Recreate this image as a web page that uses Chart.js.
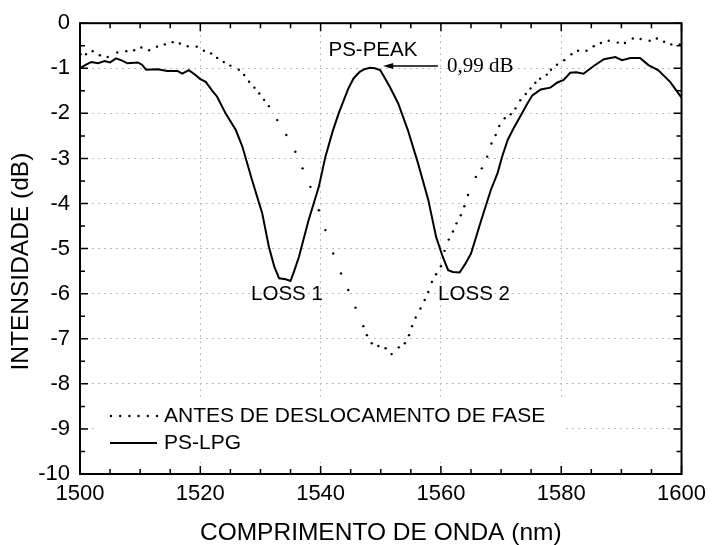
<!DOCTYPE html>
<html>
<head>
<meta charset="utf-8">
<script src="https://cdn.jsdelivr.net/npm/chart.js@4.4.0/dist/chart.umd.min.js"></script>
<style>
  html, body { margin: 0; padding: 0; background: #fff; }
</style>
</head>
<body>
<canvas id="spectrum" width="713" height="545"></canvas>
<script>
// transmission before the phase shift (nm, dB)
const antesX = [1500.1, 1501.0, 1502.1, 1503.3, 1504.6, 1506.2, 1507.7, 1509.0, 1510.2, 1511.5,
  1512.8, 1514.1, 1515.4, 1516.6, 1517.9, 1519.4, 1520.6, 1521.8, 1522.8, 1523.9,
  1525.0, 1526.4, 1527.3, 1528.1, 1529.0, 1529.8, 1530.6, 1531.4, 1532.8, 1534.3, 1535.8, 1537.0, 1538.3,
  1539.7, 1540.8, 1542.1, 1543.4, 1544.6, 1545.8, 1547.1, 1547.7, 1548.5, 1549.6,
  1550.8, 1551.8, 1553.0, 1554.0, 1554.7, 1555.2, 1555.8, 1556.6, 1557.3, 1557.9,
  1558.5, 1559.2, 1560.0, 1560.6, 1561.3, 1562.0, 1562.6, 1563.3, 1563.9, 1564.5,
  1565.8, 1566.8, 1567.7, 1568.4, 1569.1, 1569.7, 1570.6, 1571.6, 1572.4, 1573.2,
  1574.1, 1574.9, 1575.7, 1576.5, 1577.6, 1578.3, 1579.3, 1580.5, 1581.7, 1582.8,
  1584.2, 1585.4, 1586.6, 1587.9, 1589.4, 1590.6, 1591.9, 1593.2, 1594.7, 1595.9,
  1597.1, 1598.3, 1599.7];
const antesY = [-0.69, -0.69, -0.62, -0.71, -0.75, -0.65, -0.62, -0.60, -0.54, -0.60,
  -0.52, -0.47, -0.42, -0.45, -0.51, -0.52, -0.61, -0.67, -0.77, -0.86,
  -0.94, -1.03, -1.15, -1.30, -1.43, -1.56, -1.70, -1.84, -2.15, -2.48, -2.85, -3.22, -3.63,
  -4.15, -4.59, -5.11, -5.55, -5.92, -6.31, -6.72, -6.92, -7.10, -7.16,
  -7.21, -7.34, -7.19, -7.10, -6.92, -6.72, -6.53, -6.33, -6.14, -5.96,
  -5.74, -5.57, -5.39, -5.05, -4.80, -4.62, -4.44, -4.26, -4.06, -3.81,
  -3.41, -3.22, -2.96, -2.67, -2.48, -2.28, -2.11, -2.02, -1.89, -1.71,
  -1.57, -1.45, -1.32, -1.23, -1.14, -1.03, -0.92, -0.82, -0.69, -0.61,
  -0.61, -0.51, -0.44, -0.39, -0.43, -0.44, -0.34, -0.35, -0.39, -0.34,
  -0.41, -0.47, -0.47];

// phase-shifted grating (nm, dB)
const lpgX = [1500.0, 1501.0, 1501.9, 1503.0, 1504.1, 1505.0, 1506.0, 1507.0, 1507.9, 1509.6,
  1510.3, 1511.0, 1512.9, 1514.5, 1516.2, 1517.0, 1518.1, 1519.2, 1520.0, 1520.9,
  1522.0, 1522.8, 1524.2, 1525.9, 1527.0, 1528.6, 1530.3, 1531.4, 1532.3, 1533.1,
  1534.2, 1535.0, 1535.6, 1536.4, 1538.0, 1539.7, 1540.8, 1542.0, 1543.0, 1544.6,
  1545.5, 1546.5, 1547.3, 1548.2, 1549.0, 1549.9, 1550.6, 1551.5, 1552.9, 1554.5,
  1556.2, 1557.9, 1559.2, 1560.3, 1561.2, 1562.0, 1563.1, 1564.0, 1565.0, 1566.7,
  1568.3, 1569.4, 1570.2, 1571.1, 1572.2, 1573.3, 1574.3, 1575.2, 1576.6, 1578.2,
  1579.3, 1580.4, 1581.5, 1582.5, 1583.7, 1585.4, 1587.1, 1589.0, 1590.1, 1591.5,
  1593.1, 1594.5, 1596.1, 1598.1, 1600.0];
const lpgY = [-1.00, -0.92, -0.86, -0.89, -0.84, -0.87, -0.78, -0.83, -0.89, -0.87,
  -0.92, -1.03, -1.02, -1.06, -1.06, -1.12, -1.04, -1.15, -1.24, -1.30,
  -1.50, -1.63, -2.00, -2.37, -2.74, -3.48, -4.22, -4.96, -5.40, -5.66,
  -5.68, -5.72, -5.50, -5.18, -4.37, -3.63, -2.96, -2.40, -2.00, -1.45,
  -1.22, -1.08, -1.02, -0.99, -1.00, -1.04, -1.20, -1.41, -1.78, -2.37,
  -3.11, -3.92, -4.74, -5.18, -5.48, -5.52, -5.53, -5.35, -5.11, -4.37,
  -3.70, -3.33, -2.95, -2.59, -2.30, -2.04, -1.80, -1.60, -1.47, -1.43,
  -1.32, -1.26, -1.10, -1.09, -1.12, -0.95, -0.80, -0.75, -0.82, -0.77,
  -0.77, -0.93, -1.04, -1.30, -1.65];

const seriesNames = ['ANTES DE DESLOCAMENTO DE FASE', 'PS-LPG'];
const xTicks = [1500, 1520, 1540, 1560, 1580, 1600];
const yTicks = [0, -1, -2, -3, -4, -5, -6, -7, -8, -9, -10];

// text labels on the curves
const noteText = ['PS-PEAK', 'LOSS 1', 'LOSS 2'];
const noteX = [1548.7, 1534.4, 1565.5];
const noteY = [-0.6, -6.02, -6.02];

const SANS = '"Liberation Sans", Arial, sans-serif';
const SERIF = '"Liberation Serif", "Times New Roman", serif';
Chart.defaults.color = '#000';

// peak of the shifted spectrum between the two loss bands
let peakIdx = 0;
lpgX.forEach((v, i) => {
  if (v > 1540 && v < 1560 && (lpgY[i] > lpgY[peakIdx] || lpgX[peakIdx] <= 1540)) peakIdx = i;
});
const peakLabel = Math.abs(lpgY[peakIdx]).toFixed(2).replace('.', ',') + ' dB';

const decor = {
  id: 'decor',
  afterDatasetsDraw(chart) {
    const { ctx, chartArea: a, scales: { x, y } } = chart;
    ctx.save();

    // legend panel, hides the grid behind it
    ctx.fillStyle = '#fff';
    ctx.fillRect(a.left + 15, a.bottom - 77, 470, 65);
    const r1 = a.bottom - 58, r2 = a.bottom - 31;
    ctx.fillStyle = '#000';
    for (let i = 0; i < 6; i++) {
      ctx.beginPath();
      ctx.arc(a.left + 31 + i * 9.2, r1, 1.2, 0, Math.PI * 2);
      ctx.fill();
    }
    ctx.strokeStyle = '#000';
    ctx.lineWidth = 2;
    ctx.beginPath();
    ctx.moveTo(a.left + 30, r2);
    ctx.lineTo(a.left + 77, r2);
    ctx.stroke();
    ctx.font = '21px ' + SANS;
    ctx.textAlign = 'left';
    ctx.textBaseline = 'middle';
    ctx.fillText(seriesNames[0], a.left + 84, r1);
    ctx.fillText(seriesNames[1], a.left + 84, r2);

    // frame + inward ticks on all four sides
    ctx.lineWidth = 2;
    ctx.strokeRect(a.left, a.top, a.width, a.height);
    ctx.lineWidth = 1.5;
    ctx.beginPath();
    for (let v = 1500; v <= 1600; v += 5) {
      const px = x.getPixelForValue(v);
      const len = v % 20 === 0 ? 8 : 5;
      ctx.moveTo(px, a.bottom); ctx.lineTo(px, a.bottom - len);
      ctx.moveTo(px, a.top); ctx.lineTo(px, a.top + len);
    }
    for (let v = -10; v <= 0; v += 0.5) {
      const py = y.getPixelForValue(v);
      const len = Number.isInteger(v) ? 8 : 5;
      ctx.moveTo(a.left, py); ctx.lineTo(a.left + len, py);
      ctx.moveTo(a.right, py); ctx.lineTo(a.right - len, py);
    }
    ctx.stroke();

    // curve notes
    ctx.font = '20.5px ' + SANS;
    ctx.textAlign = 'center';
    noteText.forEach((t, i) => ctx.fillText(t, x.getPixelForValue(noteX[i]), y.getPixelForValue(noteY[i])));

    // arrow to the peak with its value
    const ay = y.getPixelForValue(-0.95);
    const tip = x.getPixelForValue(1550.4);
    ctx.lineWidth = 1.5;
    ctx.beginPath();
    ctx.moveTo(x.getPixelForValue(1559.5), ay);
    ctx.lineTo(tip + 8, ay);
    ctx.stroke();
    ctx.beginPath();
    ctx.moveTo(tip, ay);
    ctx.lineTo(tip + 10, ay - 3);
    ctx.lineTo(tip + 10, ay + 3);
    ctx.closePath();
    ctx.fill();
    ctx.font = '21px ' + SERIF;
    ctx.textAlign = 'left';
    ctx.fillText(peakLabel, x.getPixelForValue(1561), y.getPixelForValue(-0.97));

    // y title sits a little below the middle of the axis
    ctx.font = '24.5px ' + SANS;
    ctx.textAlign = 'center';
    ctx.translate(21, (a.top + a.bottom) / 2 + 13);
    ctx.rotate(-Math.PI / 2);
    ctx.fillText('INTENSIDADE (dB)', 0, 0);
    ctx.restore();
  }
};

new Chart(document.getElementById('spectrum'), {
  type: 'line',
  data: {
    datasets: [
      {
        label: seriesNames[0],
        data: antesX.map((v, i) => ({ x: v, y: antesY[i] })),
        showLine: false,
        pointRadius: 1.2,
        pointBorderWidth: 0,
        pointBackgroundColor: '#000'
      },
      {
        label: seriesNames[1],
        data: lpgX.map((v, i) => ({ x: v, y: lpgY[i] })),
        borderColor: '#000',
        borderWidth: 2,
        pointRadius: 0,
        tension: 0
      }
    ]
  },
  options: {
    responsive: false,
    animation: false,
    events: [],
    layout: { padding: { top: 23, right: 28, left: 0, bottom: 0 } },
    plugins: { legend: { display: false }, tooltip: { enabled: false } },
    scales: {
      x: {
        type: 'linear',
        min: 1500,
        max: 1600,
        afterFit(s) { s.height = 71; },
        afterBuildTicks(s) { s.ticks = xTicks.map(v => ({ value: v })); },
        ticks: {
          font: { family: SANS, size: 22 },
          padding: 7,
          maxRotation: 0,
          callback: v => String(v)
        },
        grid: { color: '#bdbdbd', lineWidth: 1, drawTicks: false },
        border: { display: false, dash: [2, 4] },
        title: {
          display: true,
          text: 'COMPRIMENTO DE ONDA (nm)',
          font: { family: SANS, size: 24.5, lineHeight: 1 },
          padding: 0
        }
      },
      y: {
        min: -10,
        max: 0,
        afterFit(s) { s.width = 80; },
        afterBuildTicks(s) { s.ticks = yTicks.map(v => ({ value: v })); },
        ticks: { font: { family: SANS, size: 22 }, padding: 10, callback: v => String(v) },
        grid: { color: '#bdbdbd', lineWidth: 1, drawTicks: false },
        border: { display: false, dash: [2, 4] }
      }
    }
  },
  plugins: [decor]
});
</script>
</body>
</html>
